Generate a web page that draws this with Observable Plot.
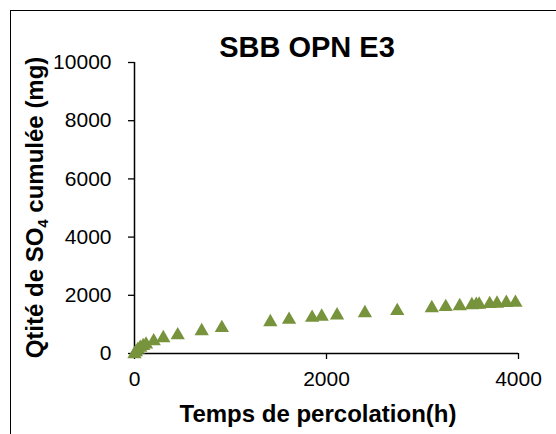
<!DOCTYPE html>
<html><head><meta charset="utf-8">
<script src="https://cdn.jsdelivr.net/npm/d3@7"></script>
<script src="https://cdn.jsdelivr.net/npm/@observablehq/plot@0.6"></script>
<style>
body{margin:0;background:#fff;}
#wrap{position:relative;width:556px;height:434px;overflow:hidden;font-family:"Liberation Sans",Arial,sans-serif;}
#frame{position:absolute;left:10px;top:10px;width:600px;height:500px;border:1px solid #000;box-sizing:border-box;pointer-events:none;}
#chart{position:absolute;left:0;top:0;}
</style></head>
<body><div id="wrap"><div id="frame"></div><div id="chart"></div></div>
<script>
const chartTitle = "SBB OPN E3";
const xTitle = "Temps de percolation(h)";
const yTitleParts = ["Qtité de SO", "4", " cumulée (mg)"];
const xTicks = [0, 2000, 4000];
const yTicks = [0, 2000, 4000, 6000, 8000, 10000];
const time = [0, 15, 35, 60, 90, 120, 200, 300, 450, 700, 910, 1415, 1610, 1850, 1950, 2110, 2400, 2737, 3097, 3242, 3388, 3514, 3560, 3590, 3700, 3776, 3873, 3968];
const so4  = [50, 120, 200, 270, 330, 380, 490, 600, 700, 840, 945, 1150, 1230, 1300, 1340, 1380, 1460, 1530, 1630, 1670, 1700, 1735, 1745, 1750, 1770, 1785, 1810, 1815];
const data = time.map((t, i) => ({t, v: so4[i]}));

const plot = Plot.plot({
  width: 556, height: 434,
  marginLeft: 134, marginRight: 38, marginTop: 62, marginBottom: 81,
  style: {fontFamily: "'Liberation Sans', Arial, sans-serif", fontSize: "21px", color: "#000", background: "transparent"},
  x: {domain: [0, 4000], ticks: xTicks, tickFormat: d3.format("d"), label: null},
  y: {domain: [0, 10000], ticks: yTicks, tickFormat: d3.format("d"), label: null},
  marks: [
    Plot.axisX({ticks: xTicks, tickFormat: d3.format("d"), tickSize: 6, tickPadding: 12, label: null, stroke: "#000", strokeWidth: 1.3, fill: "#000"}),
    Plot.axisY({ticks: yTicks, tickFormat: d3.format("d"), tickSize: 6, tickPadding: 17, label: null, stroke: "#000", strokeWidth: 1.3, fill: "#000"}),
    Plot.ruleX([0], {stroke: "#000", strokeWidth: 1.5}),
    Plot.ruleY([0], {stroke: "#000", strokeWidth: 1.5}),
    Plot.dot(data, {x: "t", y: "v", symbol: "triangle", r: 5.3, fill: "#77933c", stroke: "none", dy: 2})
  ]
});
document.getElementById("chart").appendChild(plot);

const svg = d3.select(plot);
svg.append("text").attr("x", 307).attr("y", 56.5).attr("text-anchor", "middle")
  .attr("font-size", 29).attr("font-weight", "bold").attr("fill", "#000").text(chartTitle);
svg.append("text").attr("x", 318).attr("y", 421.5).attr("text-anchor", "middle")
  .attr("font-size", 24).attr("font-weight", "bold").attr("fill", "#000").text(xTitle);
const yt = svg.append("text").attr("transform", "translate(43,207.5) rotate(-90)").attr("text-anchor", "middle")
  .attr("font-size", 24).attr("font-weight", "bold").attr("fill", "#000");
yt.append("tspan").text(yTitleParts[0]);
yt.append("tspan").attr("font-size", 15).attr("dy", 5).text(yTitleParts[1]);
yt.append("tspan").attr("dy", -5).text(yTitleParts[2]);
</script></body></html>
